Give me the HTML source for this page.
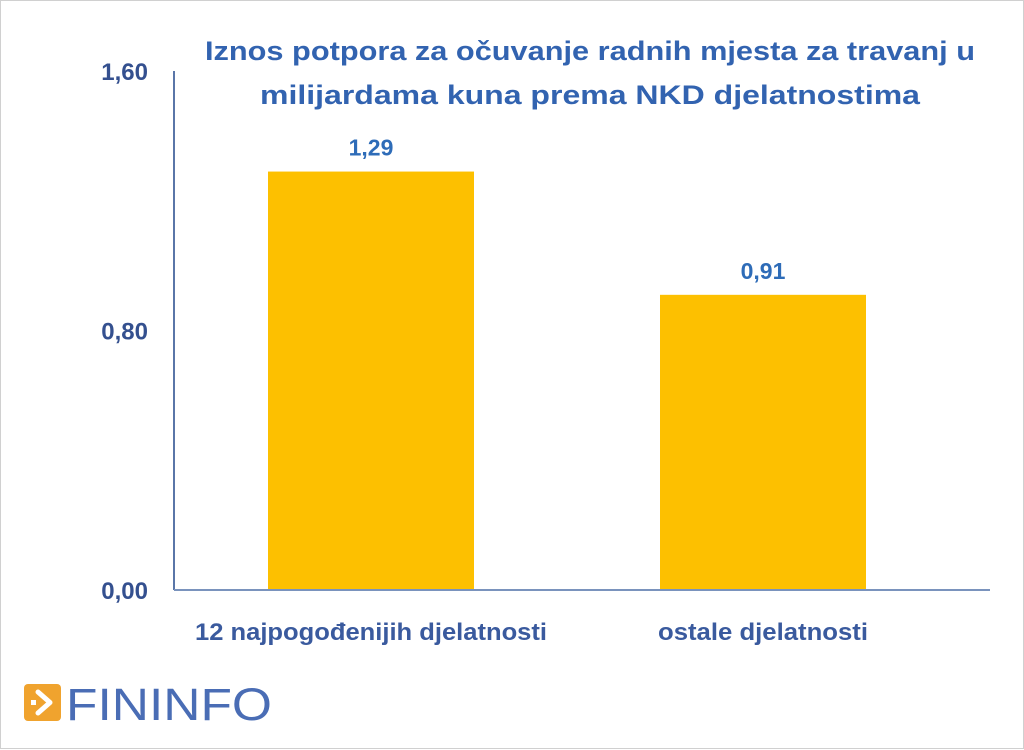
<!DOCTYPE html>
<html><head><meta charset="utf-8"><style>
html,body{margin:0;padding:0;background:#fff;}
svg{display:block;font-family:"Liberation Sans",sans-serif;}
</style></head><body>
<svg id="chart" width="1024" height="750" viewBox="0 0 1024 750">
<rect x="0.5" y="0.5" width="1023" height="748" fill="#fff" stroke="#d0d0d0"/>
<g fill="#3263b0" font-weight="bold" font-size="27" text-anchor="middle">
<text x="590" y="60" textLength="770" lengthAdjust="spacingAndGlyphs">Iznos potpora za očuvanje radnih mjesta za travanj u</text>
<text x="590" y="104" textLength="660" lengthAdjust="spacingAndGlyphs">milijardama kuna prema NKD djelatnostima</text>
</g>
<g id="yaxis"></g>
<g id="bars"></g>
<g id="xaxis"></g>
<g>
<rect x="24" y="684" width="37" height="37" rx="4" fill="#f0a32e"/>
<path d="M38 692 L50 702.5 L38 713" stroke="#fff" stroke-width="5" fill="none" stroke-linecap="round" stroke-linejoin="round"/>
<rect x="31" y="700" width="5" height="5" fill="#fff"/>
<text x="66" y="720" font-size="45" fill="#4a6db5" textLength="206" lengthAdjust="spacingAndGlyphs">FININFO</text>
</g>
</svg>
<script>
const categories = ["12 najpogođenijih djelatnosti", "ostale djelatnosti"];
const values = [1.29, 0.91];
const valueLabels = ["1,29", "0,91"];
const yTicks = [0, 0.8, 1.6];
const yTickLabels = ["0,00", "0,80", "1,60"];

const NS = "http://www.w3.org/2000/svg";
const x0 = 174, x1 = 990, yBase = 590, yTop = 71, yMax = 1.6;
const y = v => yBase - (v / yMax) * (yBase - yTop);
const band = 392;
const xc = i => 175 + band * (i + 0.5);
const barW = 206;
const labelW = [352, 210];
function mk(tag, attrs, parent) {
  const e = document.createElementNS(NS, tag);
  for (const k in attrs) e.setAttribute(k, attrs[k]);
  parent.appendChild(e);
  return e;
}
const yaxis = document.getElementById('yaxis');
const bars = document.getElementById('bars');
const xaxis = document.getElementById('xaxis');
const axLine = mk('line', {x1: x0, x2: x0, y1: yTop, y2: yBase, stroke: '#5a76a8', 'stroke-width': 2}, yaxis);


yTicks.forEach((t, i) => {
  const tx = mk('text', {x: 148, y: y(t) + 9, 'text-anchor': 'end', 'font-size': 24, 'font-weight': 'bold', fill: '#34508f'}, yaxis);
  tx.textContent = yTickLabels[i];
  
  
});
values.forEach((v, i) => {
  const r = mk('rect', {x: xc(i) - barW / 2, y: y(v), width: barW, height: yBase - y(v), fill: '#fdc000'}, bars);
  
  
  const l = mk('text', {x: xc(i), y: y(v) - 16, 'text-anchor': 'middle', 'font-size': 23, 'font-weight': 'bold', fill: '#2e6cb8'}, bars);
  l.textContent = valueLabels[i];
  
  
  const c = mk('text', {x: xc(i), y: 640, 'text-anchor': 'middle', 'font-size': 24, 'font-weight': 'bold', fill: '#3a5a9e', textLength: labelW[i] || 300, lengthAdjust: 'spacingAndGlyphs'}, xaxis);
  c.textContent = categories[i];
  
  
});
const base = mk('line', {x1: x0, x2: x1, y1: yBase, y2: yBase, stroke: '#7a93bd', 'stroke-width': 2}, xaxis);


</script>
</body></html>
